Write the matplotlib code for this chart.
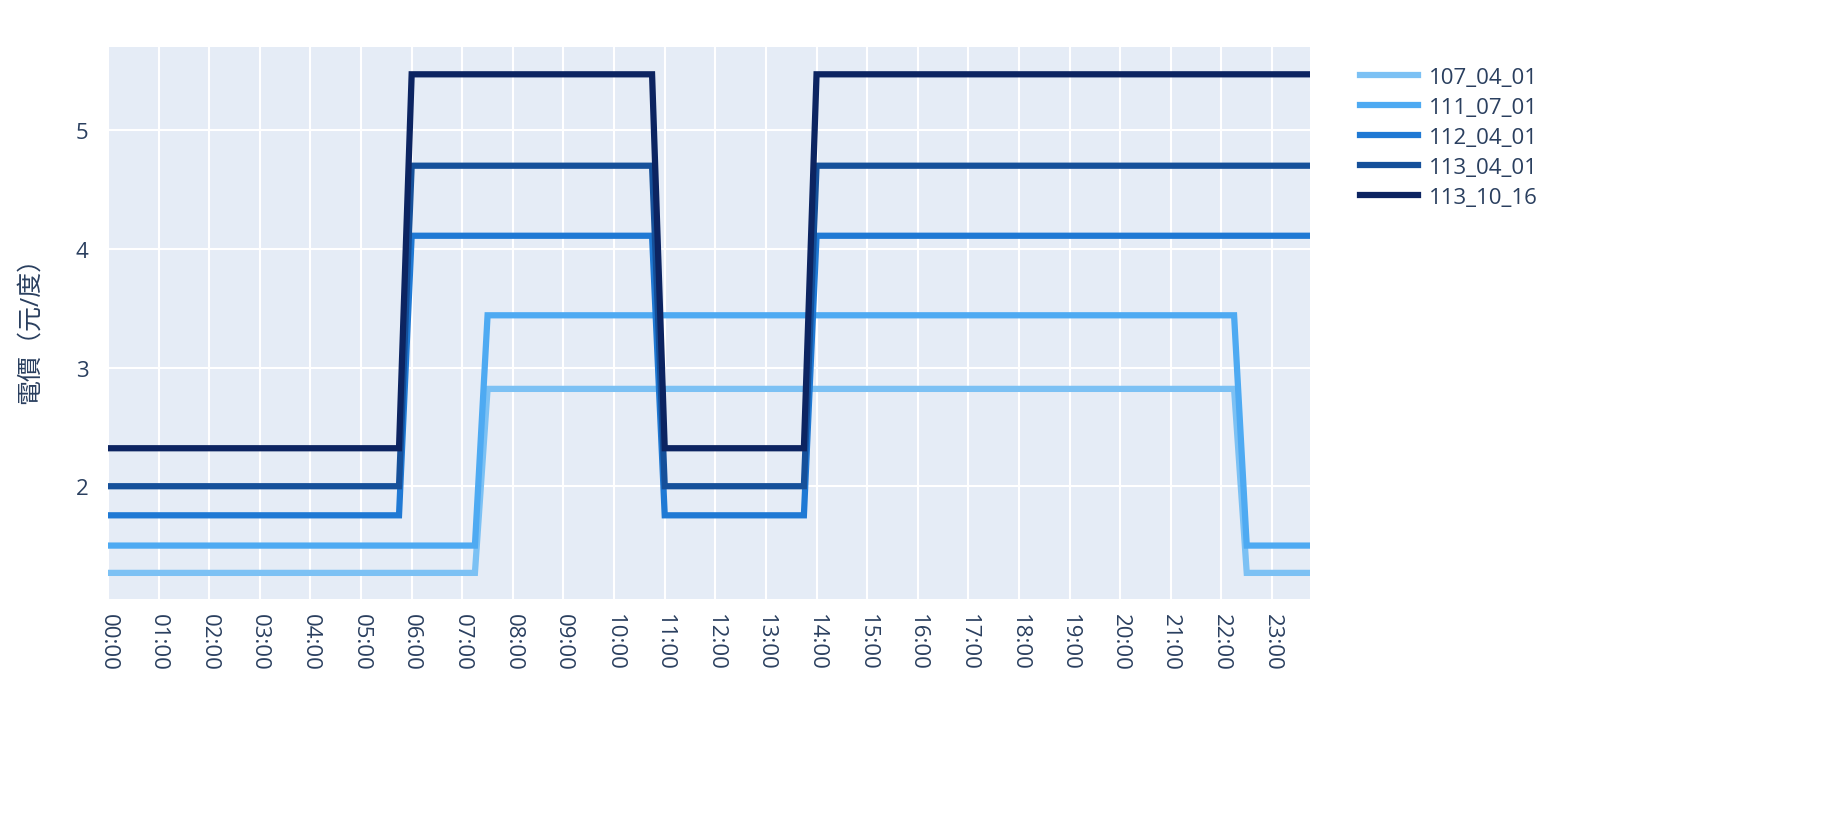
import matplotlib
matplotlib.use("Agg")
import matplotlib.pyplot as plt
import numpy as np

plt.rcParams['font.family'] = ['Open Sans', 'Noto Sans CJK TC', 'DejaVu Sans']

times = [f"{h:02d}:{m:02d}" for h in range(24) for m in (0, 15, 30, 45)]
series_names = ["107_04_01", "111_07_01", "112_04_01", "113_04_01", "113_10_16"]
low = [1.27, 1.50, 1.755, 2.00, 2.32]
high = [2.82, 3.44, 4.11, 4.70, 5.47]
colors = ["#7cc1f4", "#4eaaf2", "#1f79d4", "#15509a", "#0c2461"]

def profile(i):
    vals = []
    for t in times:
        h, m = map(int, t.split(":"))
        mins = h * 60 + m
        if i < 2:
            peak = 7 * 60 + 30 <= mins < 22 * 60 + 30
        else:
            peak = (6 * 60 <= mins < 11 * 60) or mins >= 14 * 60
        vals.append(high[i] if peak else low[i])
    return vals

fig = plt.figure(figsize=(18.32, 8.2), dpi=100)
ax = fig.add_axes([108/1832, 1-600/820, (1310-108)/1832, (600-48)/820])
ax.set_facecolor("#e5ecf6")
x = np.arange(len(times))
for i, name in enumerate(series_names):
    ax.plot(x, profile(i), color=colors[i], lw=4.5, label=name, solid_joinstyle='miter')
ax.set_xlim(0, len(times) - 1)
ax.set_ylim(1.05, 5.70)
ax.set_xticks(x[::4])
ax.set_xticklabels(times[::4], rotation=-90, fontsize=16, color="#2a3f5f")
ax.set_yticks([2, 3, 4, 5])
ax.tick_params(axis='y', labelsize=16, colors="#2a3f5f", length=0, pad=14)
ax.tick_params(axis='x', length=0, pad=10)
ax.grid(True, color="white", lw=1.5)
ax.set_axisbelow(True)
for s in ax.spines.values():
    s.set_visible(False)
ax.set_ylabel("電價（元/度）", fontsize=18, color="#2a3f5f", labelpad=24)
leg = ax.legend(loc="upper left", bbox_to_anchor=(1.025, 1.0), frameon=False,
                fontsize=16, handlelength=2.6, labelspacing=0.4, handletextpad=0.5)
for t in leg.get_texts():
    t.set_color("#2a3f5f")
fig.savefig("out.png", dpi=100)
